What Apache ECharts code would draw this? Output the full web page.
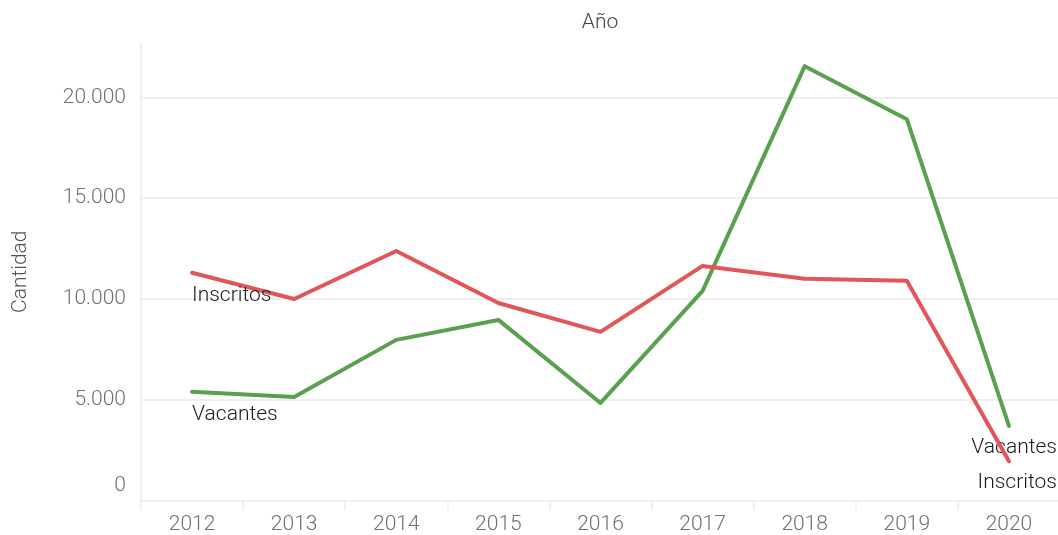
<!DOCTYPE html>
<html>
<head>
<meta charset="utf-8">
<script src="https://cdn.jsdelivr.net/npm/echarts@6/dist/echarts.min.js"></script>
<style>html,body{margin:0;padding:0;background:#fff}#c{width:1058px;height:535px}</style>
</head>
<body>
<div id="c"></div>
<script>
const years = ['2012','2013','2014','2015','2016','2017','2018','2019','2020'];
const inscritos = [11300, 10000, 12380, 9800, 8370, 11640, 11000, 10900, 1950];
const vacantes = [5390, 5140, 7970, 8960, 4840, 10400, 21550, 18920, 3700];
const yTicks = [0, 5000, 10000, 15000, 20000];

const FONT = 'Roboto';
const chart = echarts.init(document.getElementById('c'), null, {renderer: 'canvas'});

function fmt(v) {
  return String(v).replace(/\B(?=(\d{3})+(?!\d))/g, '.');
}
function labelled(arr, name) {
  const lab = {
    show: true, formatter: name, fontFamily: FONT, fontWeight: 300, fontSize: 21,
    color: '#1a1a1a', position: 'bottom', distance: 10
  };
  return arr.map((v, i) => {
    if (i === 0) return {value: v, label: Object.assign({}, lab, {align: 'left', offset: [0, 1]})};
    if (i === arr.length - 1) return {value: v, label: Object.assign({}, lab, {align: 'right', offset: [48, 0]})};
    return v;
  });
}

chart.setOption({
  animation: false,
  grid: {left: 141, right: -2, top: 43, bottom: 34.5, containLabel: false, outerBoundsMode: 'none'},
  graphic: [{
    type: 'text', x: 600, y: 12,
    style: {text: 'Año', fill: '#444', fontFamily: FONT, fontWeight: 300, fontSize: 21, textAlign: 'center'}
  }],
  xAxis: {
    type: 'category', data: years, boundaryGap: true,
    axisLine: {show: true, lineStyle: {color: '#ebebeb', width: 1.5}},
    axisTick: {show: true, length: 10, lineStyle: {color: '#ebebeb', width: 1.5}},
    axisLabel: {color: '#707070', fontFamily: FONT, fontWeight: 300, fontSize: 21, margin: 14},
    splitLine: {show: false}
  },
  yAxis: {
    type: 'value', min: 0, max: 22700, interval: 5000,
    name: 'Cantidad', nameLocation: 'middle', nameGap: 110, nameRotate: 90,
    nameTextStyle: {color: '#555', fontFamily: FONT, fontWeight: 300, fontSize: 21},
    axisLine: {show: true, lineStyle: {color: '#ebebeb', width: 1.5}},
    axisTick: {show: false},
    axisLabel: {
      showMaxLabel: false, margin: 15,
      color: '#707070', fontFamily: FONT, fontWeight: 300, fontSize: 21,
      formatter: v => (yTicks.indexOf(v) < 0 ? '' : (v === 0 ? '{z|0}' : fmt(v))),
      rich: {z: {color: '#707070', fontFamily: FONT, fontWeight: 300, fontSize: 21, padding: [0, 0, 30, 0]}}
    },
    splitLine: {show: true, showMaxLine: false, showMinLine: false, lineStyle: {color: '#efefef', width: 2}}
  },
  series: [
    {
      name: 'Vacantes', type: 'line', data: labelled(vacantes, 'Vacantes'),
      symbol: 'circle', symbolSize: 3, showSymbol: true,
      itemStyle: {color: '#59A14F'},
      lineStyle: {color: '#59A14F', width: 4, cap: 'round', join: 'round'},
      z: 3
    },
    {
      name: 'Inscritos', type: 'line', data: labelled(inscritos, 'Inscritos'),
      symbol: 'circle', symbolSize: 3, showSymbol: true,
      itemStyle: {color: '#E15759'},
      lineStyle: {color: '#E15759', width: 4, cap: 'round', join: 'round'},
      z: 4
    }
  ]
});
</script>
</body>
</html>
